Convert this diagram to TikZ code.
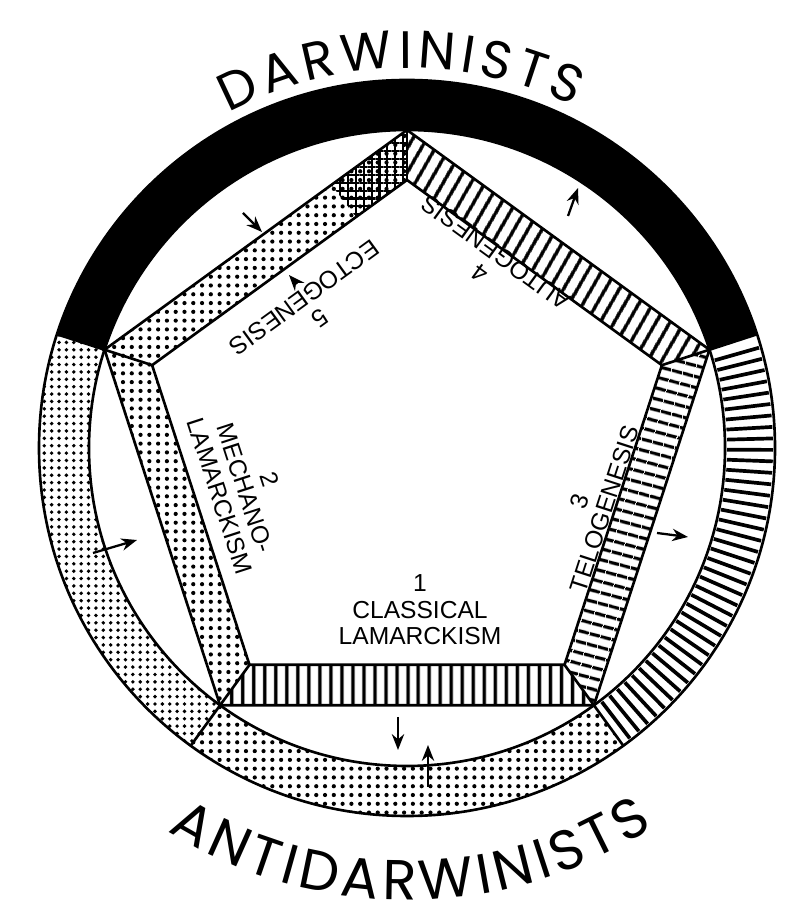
\documentclass[tikz,border=0pt]{standalone}
\usepackage{fontspec}
\setmainfont{Liberation Sans}
\newfontfamily\arcfont{Poppins}
\usetikzlibrary{calc, patterns.meta, decorations.text, arrows.meta}

\tikzset{
    outline/.style={draw=black, line width=1.5pt, line join=round},
    stripes/.style={pattern={Lines[angle=#1, distance=6.5pt, line width=2.1pt]}},
    dotty/.style={pattern={Dots[distance=5pt, radius=1.2pt]}},
    dotty dense/.style={pattern={Dots[distance=4.2pt, radius=1.1pt]}},
    gridded/.style={pattern={Hatch[angle=0, distance=4.5pt, line width=1.2pt]}},
    lbl/.style={font=\fontsize{14}{15}\selectfont, align=center, inner sep=1pt},
    flow/.style={-{Stealth[length=9pt, width=7pt]}, line width=1.3pt}
}

\begin{document}
\begin{tikzpicture}[x=0.02cm, y=0.02cm]
    \useasboundingbox (0,0) rectangle (793,918);
    \coordinate (C) at (407,470);
    % pentagon corners, outer and inner
    \foreach \i/\a in {1/90, 2/162, 3/234, 4/306, 5/18} {
        \coordinate (O\i) at ($(C)+(\a:318)$);
        \coordinate (I\i) at ($(C)+(\a:268)$);
    }

    % ring segments
    \fill[black] ($(C)+(18:368)$) arc[start angle=18, end angle=162, radius=368]
        -- ($(C)+(162:318)$) arc[start angle=162, end angle=18, radius=318] -- cycle;
    \path[dotty dense] ($(C)+(162:368)$) arc[start angle=162, end angle=234, radius=368]
        -- ($(C)+(234:318)$) arc[start angle=234, end angle=162, radius=318] -- cycle;
    \path[dotty] ($(C)+(234:368)$) arc[start angle=234, end angle=306, radius=368]
        -- ($(C)+(306:318)$) arc[start angle=306, end angle=234, radius=318] -- cycle;
    \foreach \a in {-52.5,-50.7,...,16.5}
        \draw[line width=2.1pt] ($(C)+(\a:320)$) -- ($(C)+(\a:366)$);
    \draw[outline] (C) circle[radius=368];
    \draw[outline] (C) circle[radius=318];
    \foreach \a in {18, 162, 234, 306}
        \draw[outline] ($(C)+(\a:318)$) -- ($(C)+(\a:368)$);

    % pentagon bands
    \path[stripes=90] (O3) -- (O4) -- (I4) -- (I3) -- cycle;
    \path[stripes=-15] (O4) -- (O5) -- (I5) -- (I4) -- cycle;
    \path[stripes=60] (O5) -- (O1) -- (I1) -- (I5) -- cycle;
    \path[dotty] (O1) -- (O2) -- (I2) -- (I1) -- cycle;
    \path[gridded] (O1) -- ($(O1)!0.25!(O2)$) -- ($(I1)!0.2!(I2)$) -- (I1) -- cycle;
    \path[dotty] (O2) -- (O3) -- (I3) -- (I2) -- cycle;
    \draw[outline] (O1) -- (O2) -- (O3) -- (O4) -- (O5) -- cycle;
    \draw[outline] (I1) -- (I2) -- (I3) -- (I4) -- (I5) -- cycle;
    \foreach \i in {1,...,5}
        \draw[outline] (O\i) -- (I\i);

    % labels
    \node[lbl] (classical) at (420,308) {1\\CLASSICAL\\LAMARCKISM};
    \node[lbl, rotate=-72] (mechano) at (245,430) {2\\MECHANO-\\LAMARCKISM};
    \node[lbl, rotate=72] (telo) at (592,413) {3\\TELOGENESIS};
    \node[lbl, rotate=144] (auto) at (488,655) {4\\AUTOGENESIS};
    \node[lbl, rotate=216] (ecto) at (312,610) {5\\ECTOGENESIS};

    % arrows
    \coordinate (a1s) at (243,705); \coordinate (a1e) at (262,686);
    \coordinate (a2s) at (297,634); \coordinate (a2e) at (289,643);
    \coordinate (a3s) at (568,702); \coordinate (a3e) at (578,730);
    \coordinate (a4s) at (657,385); \coordinate (a4e) at (688,381);
    \coordinate (a5s) at (93,365);  \coordinate (a5e) at (137,378);
    \coordinate (a6s) at (398,201); \coordinate (a6e) at (398,168);
    \coordinate (a7s) at (428,131); \coordinate (a7e) at (428,173);
    \foreach \k in {1,...,7}
        \draw[flow] (a\k s) -- (a\k e);

    % camp names round the ring
    \path[decorate, decoration={text along path, text align=fit to path,
        text={|\arcfont\fontsize{30}{30}\selectfont|DARWINISTS}}]
        ($(C)+(118:380)$) arc[start angle=118, end angle=64, radius=380];
    \path[decorate, decoration={text along path, text align=fit to path,
        text={|\arcfont\fontsize{32}{32}\selectfont|ANTIDARWINISTS}}]
        ($(C)+(238:452)$) arc[start angle=238, end angle=303, radius=452];
\end{tikzpicture}
\end{document}
